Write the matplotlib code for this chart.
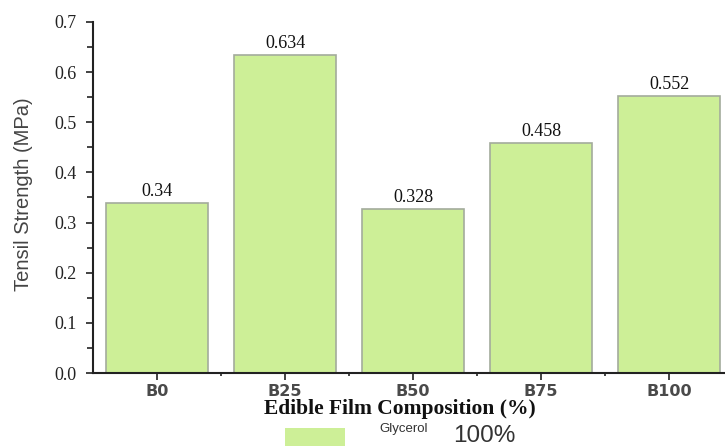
import numpy as np
import matplotlib.pyplot as plt
from matplotlib.patches import Rectangle
from matplotlib.ticker import MultipleLocator

categories = ['B0', 'B25', 'B50', 'B75', 'B100']
tensile = [0.34, 0.634, 0.328, 0.458, 0.552]
value_labels = ['0.34', '0.634', '0.328', '0.458', '0.552']

W, H = 725, 446
fig = plt.figure(figsize=(W / 100, H / 100), dpi=100)
ax = fig.add_axes([93 / W, (H - 373) / H, (W - 93) / W, (373 - 22) / H])

bar_color = '#cdef97'
edge_color = '#a3ab9c'
x = np.arange(len(categories))
bars = ax.bar(x, tensile, width=0.79, color=bar_color, edgecolor=edge_color, linewidth=1.2)

for xi, v, lab in zip(x, tensile, value_labels):
    ax.text(xi, v + 0.006, lab, ha='center', va='bottom',
            family='Liberation Serif', fontsize=13, color='#111111')

ax.set_xlim(-0.5, -0.5 + (W - 93) / 128)
ax.set_ylim(0, 0.7)

ax.yaxis.set_minor_locator(MultipleLocator(0.05))
ax.set_yticks(np.arange(0, 0.71, 0.1))
ax.set_yticklabels([f'{t:.1f}' for t in np.arange(0, 0.71, 0.1)],
                   family='Liberation Serif', fontsize=13, color='#222222')
ax.set_xticks(x)
ax.set_xticks(x[:-1] + 0.5, minor=True)
ax.set_xticklabels(categories, family='DejaVu Sans', fontweight='bold',
                   fontsize=11.5, color='#4a4a4a')

ax.tick_params(axis='both', which='both', direction='out', color='#222222', width=1.2)
ax.tick_params(axis='y', which='major', length=5, pad=7)
ax.tick_params(axis='y', which='minor', length=4)
ax.tick_params(axis='x', which='major', length=5, pad=3)
ax.tick_params(axis='x', which='minor', length=2)

for s in ['top', 'right']:
    ax.spines[s].set_visible(False)
for s in ['left', 'bottom']:
    ax.spines[s].set_linewidth(1.5)
    ax.spines[s].set_color('#222222')

fig.text(24 / W, 1 - 194 / H, 'Tensil Strength (MPa)', rotation=90, ha='center', va='center',
         family='Liberation Sans', fontsize=14.5, color='#444444')

fig.text(400 / W, 1 - 409 / H, 'Edible Film Composition (%)', ha='center', va='center',
         family='Liberation Serif', fontweight='bold', fontsize=15.5, color='#111111')

# legend
fig.patches.append(Rectangle((285 / W, 0), 60 / W, (H - 428) / H, transform=fig.transFigure,
                             facecolor=bar_color, edgecolor='none'))
fig.text(404 / W, 1 - 429 / H, 'Glycerol', ha='center', va='center',
         family='Liberation Sans', fontsize=9.5, color='#333333')
fig.text(484 / W, 1 - 436 / H, '100%', ha='center', va='center',
         family='Liberation Sans', fontsize=17.5, color='#333333')

fig.savefig('out.png', dpi=100)
